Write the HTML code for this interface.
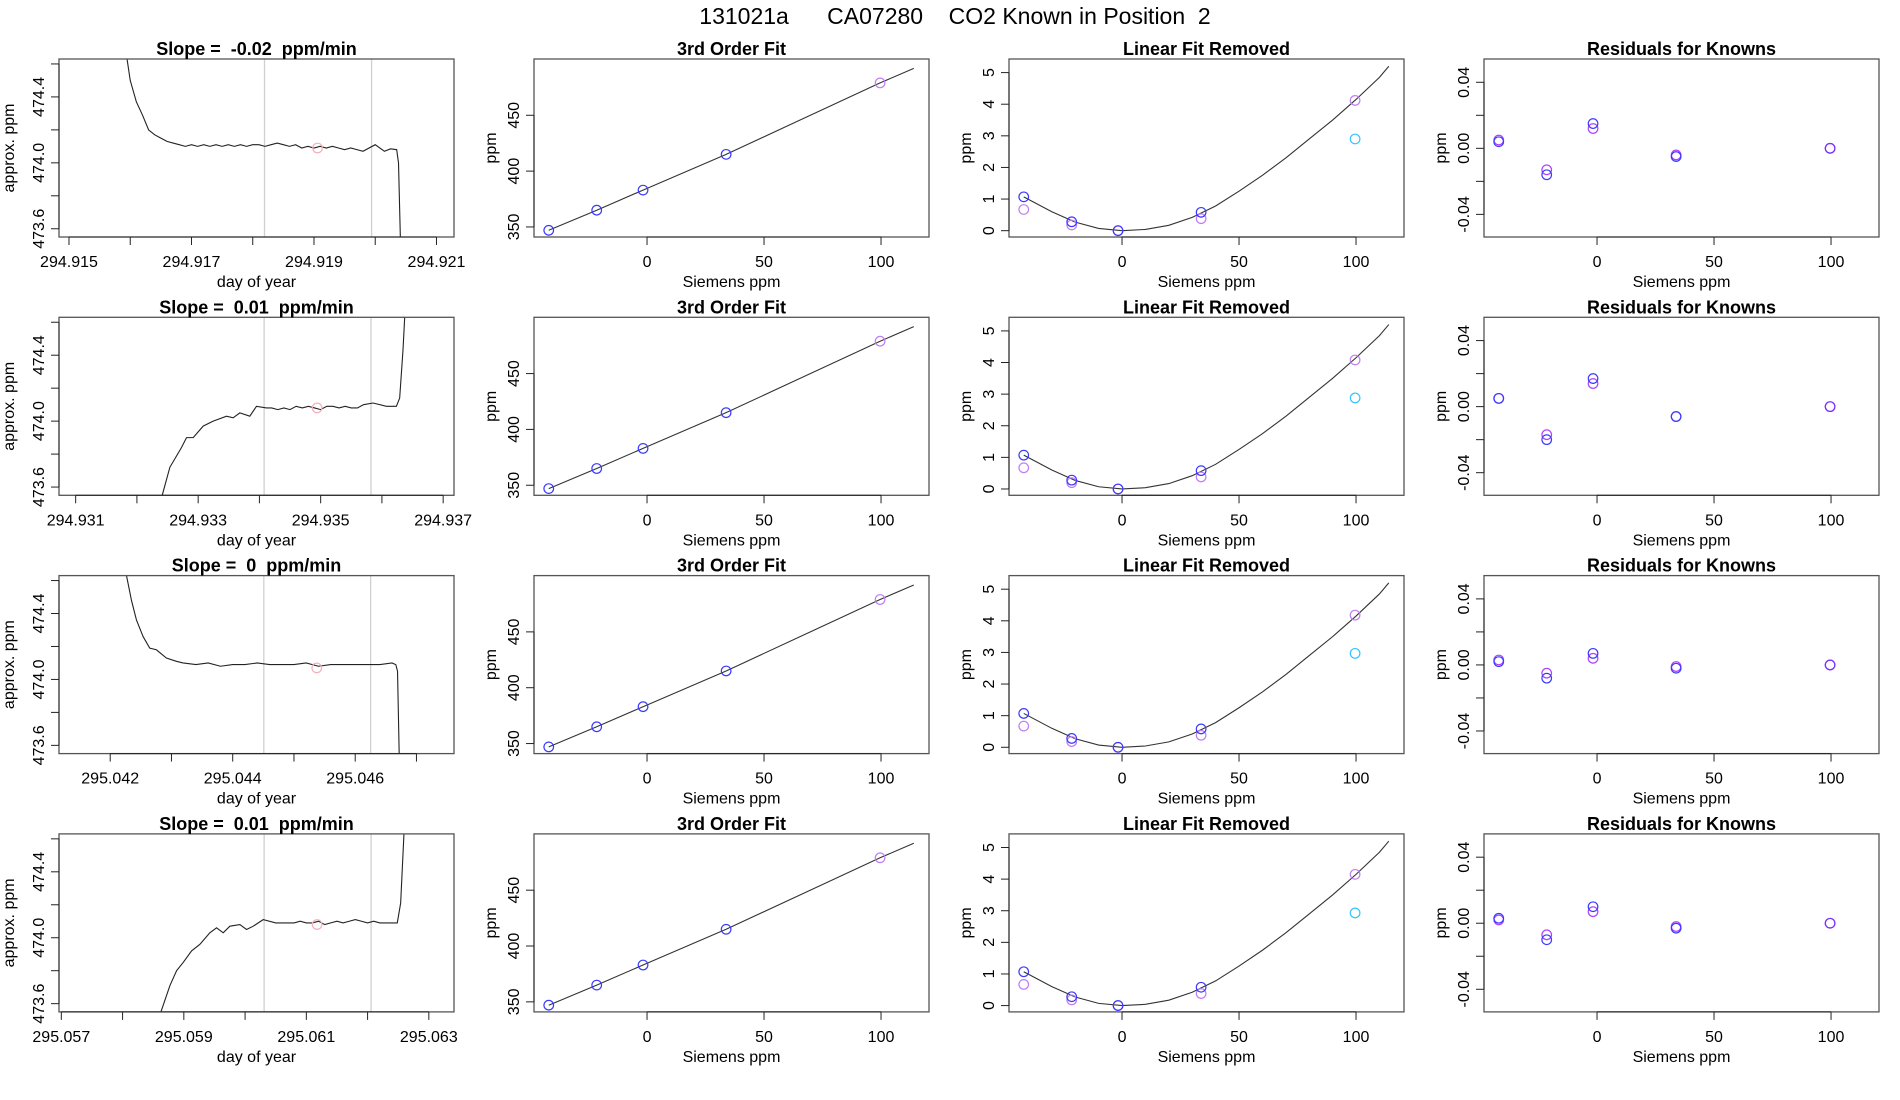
<!DOCTYPE html>
<html><head><meta charset="utf-8"><style>
html,body{margin:0;padding:0;background:#fff}
svg{display:block;font-family:"Liberation Sans",Arial,sans-serif}
text{white-space:pre}
</style></head><body>
<svg id="chart" width="1900" height="1100" viewBox="0 0 1900 1100" xmlns="http://www.w3.org/2000/svg">
<text x="955" y="24" font-size="23" text-anchor="middle" xml:space="preserve">131021a      CA07280    CO2 Known in Position  2</text>
</svg>
<script>
// ---------- data ----------
const slopeLabels = ["-0.02", "0.01", "0", "0.01"];
const tsXmin = [294.914837, 294.930728, 295.041164, 295.056962];
const tsTickStart = [294.915, 294.931, 295.042, 295.057];
const tsTickCount = [7, 7, 6, 7];
const tsGray = [[294.918192, 294.919940], [294.934077, 294.935822], [295.044508, 295.046252], [295.060311, 295.062057]];
const tsCircleT = [294.919058, 294.934942, 295.045372, 295.061176];
const tsCircleV = [474.09, 474.08, 474.07, 474.08];
const ts1T = [294.9159,294.9160,294.9161,294.9162,294.9163,294.9164,294.9165,294.9166,294.9167,294.9168,
 294.9169,294.9170,294.9171,294.9172,294.9173,294.9174,294.9175,294.9176,294.9177,294.9178,294.9179,294.9180,294.9181,294.9182,294.9183,294.9184,294.9185,294.9186,294.9187,294.9188,294.9189,294.9190,294.9191,294.9192,294.9193,294.9194,294.9195,294.9196,294.9197,294.9198,
 294.9200,294.92015,294.92025,294.92035,294.92038,294.92042];
const ts1V = [474.75,474.50,474.37,474.29,474.20,474.17,474.15,474.13,474.12,474.11,
 474.10,474.11,474.10,474.11,474.10,474.11,474.10,474.11,474.10,474.11,474.10,474.11,474.11,474.10,474.11,474.12,474.11,474.10,474.11,474.09,474.10,474.09,474.10,474.09,474.10,474.09,474.08,474.09,474.08,474.07,
 474.11,474.07,474.085,474.08,474.0,473.4];
const ts2T = [294.932300,294.932413,294.932538,294.932728,294.93281,294.932919,294.933082,294.933245,294.933463,294.933571,294.93368,294.933843,294.933952,294.934115,
 294.9342,294.9343,294.9344,294.9345,294.9346,294.9347,294.9348,294.9349,294.9350,294.9351,294.9352,294.9353,294.9354,294.9355,294.9356,294.9357,
 294.935855,294.936073,294.936236,294.93629,294.936344,294.936372,294.9364];
const ts2V = [473.3,473.55,473.72,473.84,473.90,473.90,473.97,474.00,474.03,474.02,474.05,474.03,474.09,474.08,
 474.08,474.07,474.08,474.07,474.09,474.08,474.09,474.08,474.07,474.09,474.09,474.08,474.09,474.08,474.08,474.10,
 474.11,474.09,474.09,474.14,474.43,474.63,474.8];
const ts3T = [295.04220,295.042266,295.042347,295.042429,295.042537,295.042646,295.042754,295.042917,295.04308,295.043188,
 295.0434,295.0436,295.0438,295.0440,295.0442,295.0444,295.0446,295.0448,295.0450,295.0452,295.0454,295.0456,295.0458,295.0460,295.0462,295.0464,295.0466,
 295.046663,295.046691,295.046718,295.04675];
const ts3V = [474.8,474.63,474.48,474.36,474.26,474.19,474.18,474.13,474.11,474.10,
 474.09,474.10,474.08,474.09,474.09,474.10,474.09,474.09,474.09,474.10,474.08,474.09,474.09,474.09,474.09,474.09,474.10,
 474.09,474.05,473.55,473.3];
const ts4T = [295.05855,295.058626,295.058773,295.058882,295.05899,295.059126,295.059262,295.059425,295.059534,295.059643,295.059752,295.059915,295.060024,295.060133,295.060296,
 295.0605,295.0606,295.0607,295.0608,295.0609,295.0610,295.0611,295.0612,295.0613,295.0614,295.0615,295.0616,295.0617,295.0618,295.0619,295.0620,295.0621,295.0622,295.0623,295.0624,
 295.062485,295.06254,295.062594,295.06265];
const ts4V = [473.3,473.55,473.71,473.80,473.85,473.92,473.96,474.03,474.06,474.03,474.07,474.08,474.05,474.07,474.11,
 474.09,474.09,474.09,474.09,474.10,474.09,474.09,474.10,474.08,474.09,474.10,474.09,474.10,474.11,474.10,474.09,474.10,474.09,474.09,474.09,
 474.09,474.21,474.63,474.9];
const tsT = [ts1T, ts2T, ts3T, ts4T];
const tsV = [ts1V, ts2V, ts3V, ts4V];

const knownX = [-42, -21.5, -1.7, 33.8, 99.6];
const fitPpm = [347, 365, 383, 415, 479];
const fitLineX = [-42, -21.5, -1.7, 33.8, 99.6, 114];
const fitLineY = [347, 365, 383, 415, 479, 492];

const curveX = [-42,-30,-20,-10,0,10,20,30,40,50,60,70,80,90,100,110,114];
const curveY = [1.07,0.6,0.27,0.07,0,0.04,0.17,0.42,0.78,1.25,1.75,2.3,2.9,3.5,4.15,4.85,5.2];
const linBlue = [[1.07,0.28,0,0.58],[1.07,0.28,0,0.58],[1.07,0.28,0,0.58],[1.07,0.28,0,0.58]];
const linPurple = [[0.67,0.18,0,0.38,4.12],[0.67,0.2,0,0.38,4.08],[0.67,0.18,0,0.38,4.18],[0.67,0.18,0,0.38,4.15]];
const linCyan = [2.9, 2.88, 2.97, 2.93];

const resBlue = [[0.004,-0.016,0.015,-0.005,0],[0.005,-0.020,0.017,-0.006,0],[0.002,-0.008,0.007,-0.002,0],[0.003,-0.010,0.010,-0.003,0]];
const resPurple = [[0.005,-0.013,0.012,-0.004,0],[0.005,-0.017,0.014,-0.006,0],[0.003,-0.005,0.004,-0.001,0],[0.002,-0.007,0.007,-0.002,0]];

// ---------- drawing ----------
const svg = document.getElementById('chart');
const NS = 'http://www.w3.org/2000/svg';
function mk(tag, attrs, parent){const e=document.createElementNS(NS,tag);for(const k in attrs)e.setAttribute(k,attrs[k]);(parent||svg).appendChild(e);return e;}
const BW=395, BH=178;
function boxLeft(c){return 59+475*c;}
function boxTop(r){return 59+258.3*r;}
function scale(d0,d1,p0,p1){return v=>p0+(v-d0)/(d1-d0)*(p1-p0);}

function frame(g,L,T,title){
  const b=mk('rect',{x:L,y:T,width:BW,height:BH,fill:'none',stroke:'#555','stroke-width':1.3},g);
  
  
  const t=mk('text',{x:L+BW/2,y:T-4,'font-size':18,'font-weight':'bold','text-anchor':'middle'},g);
  t.textContent=title;
  
  
}
function xAxis(g,L,T,sx,ticks,labels,xlabel){
  const y=T+BH;
  mk('line',{x1:sx(ticks[0]),x2:sx(ticks[ticks.length-1]),y1:y,y2:y,stroke:'#222'},g);
  ticks.forEach((v,i)=>{
    mk('line',{x1:sx(v),x2:sx(v),y1:y,y2:y+8,stroke:'#222'},g);
    if(labels[i]!==''){const t=mk('text',{x:sx(v),y:y+30,'font-size':16,'text-anchor':'middle'},g);t.textContent=labels[i];
      
      }
  });
  const xl=mk('text',{x:L+BW/2,y:y+50,'font-size':16,'text-anchor':'middle'},g);xl.textContent=xlabel;
  
  
}
function yAxis(g,L,T,sy,ticks,labels,ylabel,lx){
  mk('line',{x1:L,x2:L,y1:sy(ticks[0]),y2:sy(ticks[ticks.length-1]),stroke:'#222'},g);
  ticks.forEach((v,i)=>{
    mk('line',{x1:L,x2:L-8,y1:sy(v),y2:sy(v),stroke:'#222'},g);
    if(labels[i]!==''){const t=mk('text',{x:L-15,y:sy(v),'font-size':16,'text-anchor':'middle',transform:`rotate(-90 ${L-15} ${sy(v)})`},g);t.textContent=labels[i];
      
      }
  });
  const yl=mk('text',{x:lx,y:T+BH/2,'font-size':16,'text-anchor':'middle',transform:`rotate(-90 ${lx} ${T+BH/2})`},g);yl.textContent=ylabel;
  
  
}
function circ(g,x,y,col,name){
  const c=mk('circle',{cx:x,cy:y,r:4.8,fill:'none',stroke:col,'stroke-width':1.2},g);
  
  
}
let cid=0;
function clip(L,T){const id='c'+(cid++);const cp=mk('clipPath',{id:id});mk('rect',{x:L,y:T,width:BW,height:BH},cp);return `url(#${id})`;}

const BLUE='#3a3aff', PURP='#c07cf5', CYAN='#33c4ff', RPURP='#b040ff';
const kxMin=-48.3, kxMax=120.5;

for(let r=0;r<4;r++){
  const T=boxTop(r);
  {
    const L=boxLeft(0);
    const g=mk('g',{});
    
    
    const x0=tsXmin[r], x1=x0+(BW)/61250;
    const sx=scale(x0,x1,L,L+BW), sy=scale(473.55,474.63,T+BH,T);
    tsGray[r].forEach(v=>{const l=mk('line',{x1:sx(v),x2:sx(v),y1:T,y2:T+BH,stroke:'#d0d0d0','stroke-width':1.3},g);
      
      });
    const cp=clip(L,T);
    const p=mk('polyline',{points:tsT[r].map((t,i)=>sx(t)+','+sy(tsV[r][i])).join(' '),fill:'none',stroke:'#222','stroke-width':1.1,'clip-path':cp},g);
    
    
    circ(g,sx(tsCircleT[r]),sy(tsCircleV[r]),'#f4b0b8','mean-marker');
    frame(g,L,T,'Slope =  '+slopeLabels[r]+'  ppm/min');
    const ticks=[],labels=[];
    for(let i=0;i<tsTickCount[r];i++){const v=tsTickStart[r]+0.001*i;ticks.push(v);labels.push(i%2===0?v.toFixed(3):'');}
    xAxis(g,L,T,sx,ticks,labels,'day of year');
    yAxis(g,L,T,sy,[473.6,473.8,474.0,474.2,474.4,474.6],['473.6','','474.0','','474.4',''],'approx. ppm',L-45);
  }
  {
    const L=boxLeft(1);
    const g=mk('g',{});
    
    
    const sx=scale(kxMin,kxMax,L,L+BW), sy=scale(341,500.4,T+BH,T);
    const p=mk('polyline',{points:fitLineX.map((x,i)=>sx(x)+','+sy(fitLineY[i])).join(' '),fill:'none',stroke:'#333','stroke-width':1.1},g);
    
    
    knownX.forEach((x,i)=>circ(g,sx(x),sy(fitPpm[i]),i<4?BLUE:PURP,'known-point'));
    frame(g,L,T,'3rd Order Fit');
    xAxis(g,L,T,sx,[0,50,100],['0','50','100'],'Siemens ppm');
    yAxis(g,L,T,sy,[350,400,450],['350','400','450'],'ppm',L-38);
  }
  {
    const L=boxLeft(2);
    const g=mk('g',{});
    
    
    const sx=scale(kxMin,kxMax,L,L+BW), sy=scale(-0.2,5.43,T+BH,T);
    const p=mk('polyline',{points:curveX.map((x,i)=>sx(x)+','+sy(curveY[i])).join(' '),fill:'none',stroke:'#333','stroke-width':1.1},g);
    
    
    linPurple[r].forEach((v,i)=>circ(g,sx(knownX[i]),sy(v),PURP,'purple-point'));
    linBlue[r].forEach((v,i)=>circ(g,sx(knownX[i]),sy(v),BLUE,'blue-point'));
    circ(g,sx(knownX[4]),sy(linCyan[r]),CYAN,'cyan-point');
    frame(g,L,T,'Linear Fit Removed');
    xAxis(g,L,T,sx,[0,50,100],['0','50','100'],'Siemens ppm');
    yAxis(g,L,T,sy,[0,1,2,3,4,5],['0','1','2','3','4','5'],'ppm',L-38);
  }
  {
    const L=boxLeft(3);
    const g=mk('g',{});
    
    
    const sx=scale(kxMin,kxMax,L,L+BW), sy=scale(-0.0537,0.0541,T+BH,T);
    resPurple[r].forEach((v,i)=>circ(g,sx(knownX[i]),sy(v),RPURP,'residual-purple'));
    resBlue[r].forEach((v,i)=>circ(g,sx(knownX[i]),sy(v),i<4?BLUE:'#7a30ff','residual-blue'));
    frame(g,L,T,'Residuals for Knowns');
    xAxis(g,L,T,sx,[0,50,100],['0','50','100'],'Siemens ppm');
    yAxis(g,L,T,sy,[-0.04,-0.02,0,0.02,0.04],['-0.04','','0.00','','0.04'],'ppm',L-38);
  }
}
</script>
</body></html>
